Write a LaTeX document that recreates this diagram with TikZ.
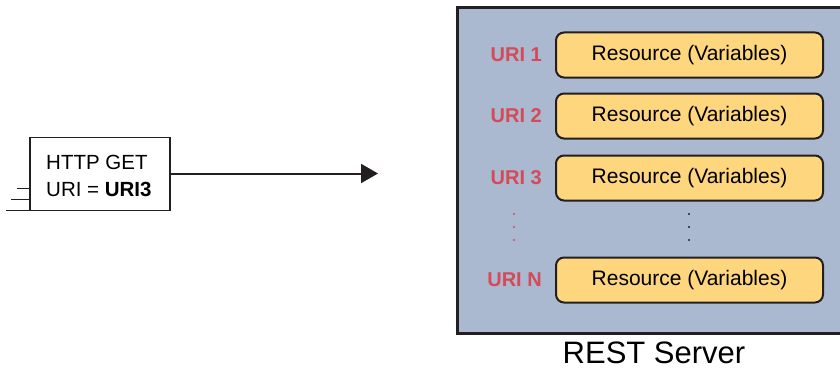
\documentclass[tikz,border=0pt]{standalone}
\usepackage{fontspec}
\setmainfont{Liberation Sans}
\usetikzlibrary{arrows.meta}
\definecolor{srvfill}{RGB}{170,185,208}
\definecolor{resfill}{RGB}{253,214,126}
\definecolor{urired}{RGB}{212,74,88}
\definecolor{dark}{RGB}{35,31,32}
\tikzset{
  resbox/.style={draw=dark, line width=2pt, fill=resfill, rounded corners=8pt,
    minimum width=267pt, minimum height=45pt, inner sep=0pt,
    font=\fontsize{21}{24}\selectfont},
  urilabel/.style={anchor=east, text=urired, inner sep=0pt,
    font=\fontsize{20}{24}\selectfont\bfseries},
  dotmark/.style={circle, inner sep=0pt, minimum size=2.4pt},
}
\begin{document}
\begin{tikzpicture}[x=1pt,y=-1pt]
\useasboundingbox (0,0) rectangle (840,369);
% server
\begin{scope}
\clip (0,0) rectangle (840,369);
\node[draw=dark, line width=3pt, fill=srvfill, anchor=north west, inner sep=0pt,
  minimum width=400pt, minimum height=326pt] (server) at (456,6) {};
\end{scope}
\node[font=\fontsize{31}{36}\selectfont, anchor=base, inner sep=0pt] (srvlabel) at (654,363.5) {REST Server};
% resources
\node[resbox] (r1) at (689.5,55) {Resource (Variables)};
\node[resbox] (r2) at (689.5,116) {Resource (Variables)};
\node[resbox] (r3) at (689.5,178) {Resource (Variables)};
\node[resbox] (rn) at (689.5,280) {Resource (Variables)};
\node[urilabel] (u1) at (542,55) {URI 1};
\node[urilabel] (u2) at (542,116) {URI 2};
\node[urilabel] (u3) at (542,178) {URI 3};
\node[urilabel] (un) at (542,280) {URI N};
\foreach \y [count=\i] in {214,227,240}{
  \node[dotmark, fill=urired] (rd\i) at (514,\y) {};
  \node[dotmark, fill=dark] (bd\i) at (689,\y) {};
}
% request box
\node[draw=dark, line width=1.6pt, fill=white, anchor=north west, inner sep=0pt, outer sep=0pt,
  minimum width=140pt, minimum height=73pt] (req) at (30,137.5) {};
\node[anchor=west, inner sep=0pt, font=\fontsize{20.5}{24}\selectfont] (t1) at (46,162) {HTTP GET};
\node[anchor=west, inner sep=0pt, font=\fontsize{20.5}{24}\selectfont] (t2) at (46,189) {URI = \textbf{URI3}};
\coordinate (l1) at (17,188.5);
\coordinate (l2) at (11,199.5);
\coordinate (l3) at (6,210.5);
\draw[dark, line width=1.8pt] (l1) -- (l1 -| req.west);
\draw[dark, line width=1.8pt] (l2) -- (l2 -| req.west);
\draw[dark, line width=1.8pt] (l3) -- (l3 -| req.west);
% arrow
\coordinate (tip) at (378,173.5);
\draw[dark, line width=2pt, -{Triangle[length=17pt,width=19pt]}] (req.east |- tip) -- (tip);
\end{tikzpicture}
\end{document}
